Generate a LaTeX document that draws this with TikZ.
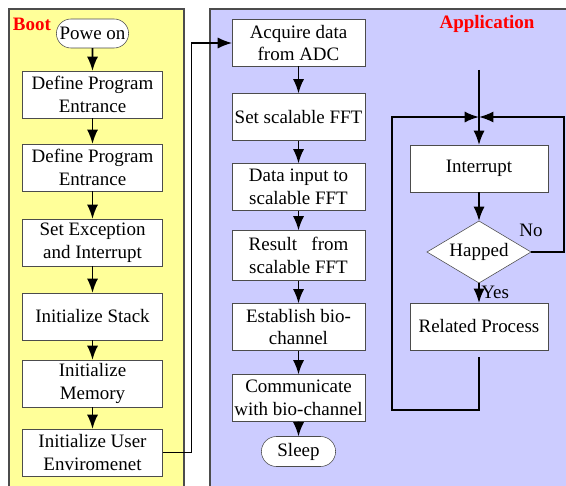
\documentclass[tikz,border=0pt]{standalone}
\usepackage{fontspec}
\setmainfont{Liberation Serif}
\usetikzlibrary{positioning}
\usetikzlibrary{arrows.meta}
\usetikzlibrary{shapes.geometric,shapes.misc}

\definecolor{bootbg}{HTML}{FFFF99}
\definecolor{appbg}{HTML}{CCCCFF}

\begin{document}
\begin{tikzpicture}[>={Latex[length=3.6mm,width=2.8mm]},font=\fontsize{13.5}{16.3}\selectfont,
	blk/.style={minimum height=1.175cm,outer sep=0pt,inner sep=1pt,align=center,draw=black!70,fill=white},
	term/.style={rounded rectangle,minimum height=.725cm,outer sep=0pt,inner sep=1pt,draw=black!70,fill=white},
	dec/.style={diamond,aspect=1.7,minimum width=2.6cm,minimum height=1.55cm,inner sep=0pt,outer sep=0pt,draw=black!70,fill=white},
	flow/.style={->,line width=1.4pt},
	title/.style={text=red,font=\fontsize{13.5}{16}\selectfont\bfseries}]
	\useasboundingbox (0,0) rectangle (14.15,-12.125);
	\filldraw[fill=bootbg,draw=black!70,line width=.8pt] (0.225,-0.225) rectangle (4.6,-12.5);
	\filldraw[fill=appbg,draw=black!70,line width=.8pt] (5.25,-0.225) rectangle (14.6,-12.5);

	\node [title,anchor=west] at (0.2,-0.6) (boot) {Boot};
	\node [title] at (12.175,-0.6) (app) {Application};

	% boot column
	\node [term,minimum width=1.875cm] at (2.3125,-0.8375) (pwr) {Powe on};
	\node [blk,minimum width=3.5cm,below=.575cm of pwr] (def1) {Define Program\\Entrance};
	\node [blk,minimum width=3.5cm,below=.65cm of def1] (def2) {Define Program\\Entrance};
	\node [blk,minimum width=3.5cm,below=.7cm of def2] (exc) {Set Exception\\and Interrupt};
	\node [blk,minimum width=3.5cm,below=.675cm of exc] (stk) {Initialize Stack};
	\node [blk,minimum width=3.5cm,below=.5cm of stk] (mem) {Initialize\\Memory};
	\node [blk,minimum width=3.5cm,below=.55cm of mem] (usr) {Initialize User\\Enviromenet};

	% application column
	\node [blk,minimum width=3.325cm] at (7.4625,-1.075) (acq) {Acquire data\\from ADC};
	\node [blk,minimum width=3.325cm,below=.675cm of acq] (fft) {Set scalable FFT};
	\node [blk,minimum width=3.325cm,below=.575cm of fft] (inp) {Data input to\\scalable FFT};
	\node [blk,minimum width=3.325cm,below=.5cm of inp,minimum height=1.25cm] (res) {Result~~ from\\scalable FFT};
	\node [blk,minimum width=3.325cm,below=.575cm of res] (est) {Establish bio-\\channel};
	\node [blk,minimum width=3.325cm,below=.6cm of est] (com) {Communicate\\with bio-channel};
	\node [term,minimum width=1.925cm,minimum height=.75cm,below=.375cm of com] (slp) {Sleep};

	% interrupt loop
	\node [blk,minimum width=3.45cm] at (11.975,-4.2125) (irq) {Interrupt};
	\node [dec,below=.725cm of irq] (hap) {Happed};
	\node [blk,minimum width=3.45cm,below=.5cm of hap] (rel) {Related Process};
	\node [inner sep=1pt,above=.35cm of hap.east] (no) {No};
	\coordinate (top) at (11.975,-1.75);
	\coordinate (join) at (11.975,-2.925);
	\coordinate (lc) at (9.8,-2.925);
	\coordinate (rc) at (14.1,-2.925);

	\draw[flow] (pwr) -- (def1);
	\draw[flow] (def1) -- (def2);
	\draw[flow] (def2) -- (exc);
	\draw[flow] (exc) -- (stk);
	\draw[flow] (stk) -- (mem);
	\draw[flow] (mem) -- (usr);
	\draw[->,line width=1.1pt] (usr.east) -- ++(.725,0) |- (acq.west);

	\draw[flow] (acq) -- (fft);
	\draw[flow] (fft) -- (inp);
	\draw[flow] (inp) -- (res);
	\draw[flow] (res) -- (est);
	\draw[flow] (est) -- (com);
	\draw[flow] (com) -- (slp);

	\draw[flow] (top) -- (irq);
	\draw[flow] (irq) -- (hap);
	\draw[flow] (hap) -- node[right=0pt,pos=.45,inner sep=1pt] {Yes} (rel);
	\draw[flow] (hap.east) -| (rc) -- (join);
	\draw[flow] ([yshift=-.175cm]rel.south) -- ++(0,-1.325) -| (lc) -- (join);
\end{tikzpicture}
\end{document}
